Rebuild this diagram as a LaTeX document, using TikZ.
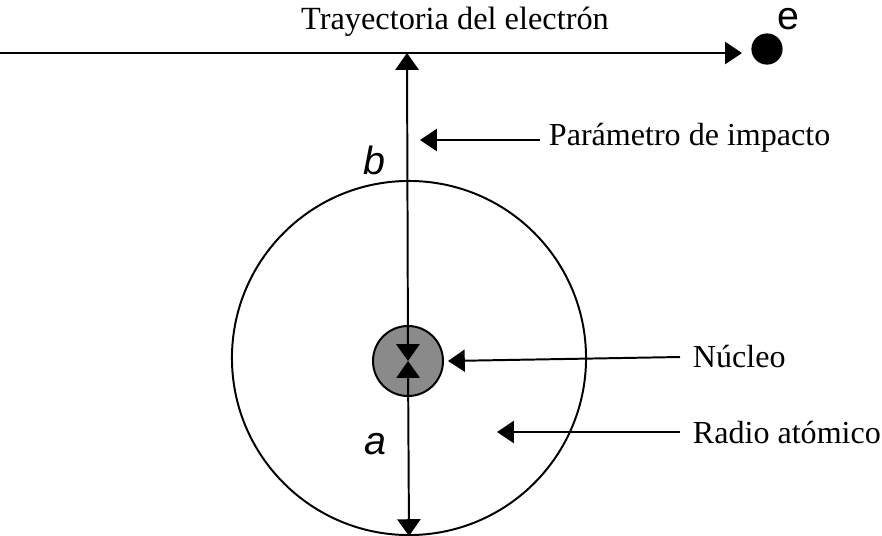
\documentclass[tikz,border=0pt]{standalone}
\usepackage{fontspec}
\setmainfont{Liberation Serif}
\newfontfamily\letterfont{Liberation Sans}
\definecolor{nucgray}{RGB}{138,138,138}
\usetikzlibrary{arrows.meta,positioning}

\begin{document}
\begin{tikzpicture}[x=0.025cm, y=-0.025cm,
  line width=1.4pt,
  tip/.style={-{Triangle[length=0.42cm, width=0.55cm]}},
  dbltip/.style={{Triangle[length=0.42cm, width=0.58cm]}-{Triangle[length=0.42cm, width=0.58cm]}},
  label/.style={anchor=west, inner sep=0pt, font=\fontsize{22.8}{26}\selectfont},
  letter/.style={inner sep=0pt, font=\fontsize{28}{32}\selectfont\letterfont\itshape}]
  \useasboundingbox (0,0) rectangle (882,535);

  % Atom and nucleus
  \node[draw, circle, minimum size=8.85cm, inner sep=0pt] (atom) at (409,358) {};
  \node[draw, circle, fill=nucgray, minimum size=1.75cm, inner sep=0pt] (nucleus) at (408,361) {};

  % Electron and its path
  \node[circle, fill=black, minimum size=0.78cm, inner sep=0pt] (electron) at (767,49) {};
  \node[letter, font=\fontsize{28}{32}\selectfont\letterfont\upshape] (elabel) at (788,19) {e};
  \coordinate (trackL) at (0,53);
  \coordinate (trackR) at (742,53);
  \coordinate (trackB) at (407,53);
  \draw[tip] (trackL) -- (trackR);
  \node[font=\fontsize{23}{26}\selectfont] (title) at (455,22) {Trayectoria del electrón};

  % Impact parameter and radius
  \draw[dbltip] (trackB) -- (nucleus.center);
  \draw[dbltip] (nucleus.center) -- (atom.south);
  \node[letter] (blabel) at (374,160) {b};
  \node[letter] (alabel) at (375,444) {a};

  % Labels
  \node[label] (impact) at (548,138) {Parámetro de impacto};
  \node[label] (nuclabel) at (692,357) {Núcleo};
  \node[label] (radlabel) at (692,432) {Radio atómico};
  \coordinate (impactTip) at (420,140);
  \coordinate (radTip) at (497,432);
  \draw[tip] (impact.west |- impactTip) ++(-8,0) -- (impactTip);
  \draw[tip] (nuclabel.west) ++(-12,0) -- ([xshift=0.1cm]nucleus.east);
  \draw[tip] (radlabel.west) ++(-12,0) -- (radTip);
\end{tikzpicture}
\end{document}
